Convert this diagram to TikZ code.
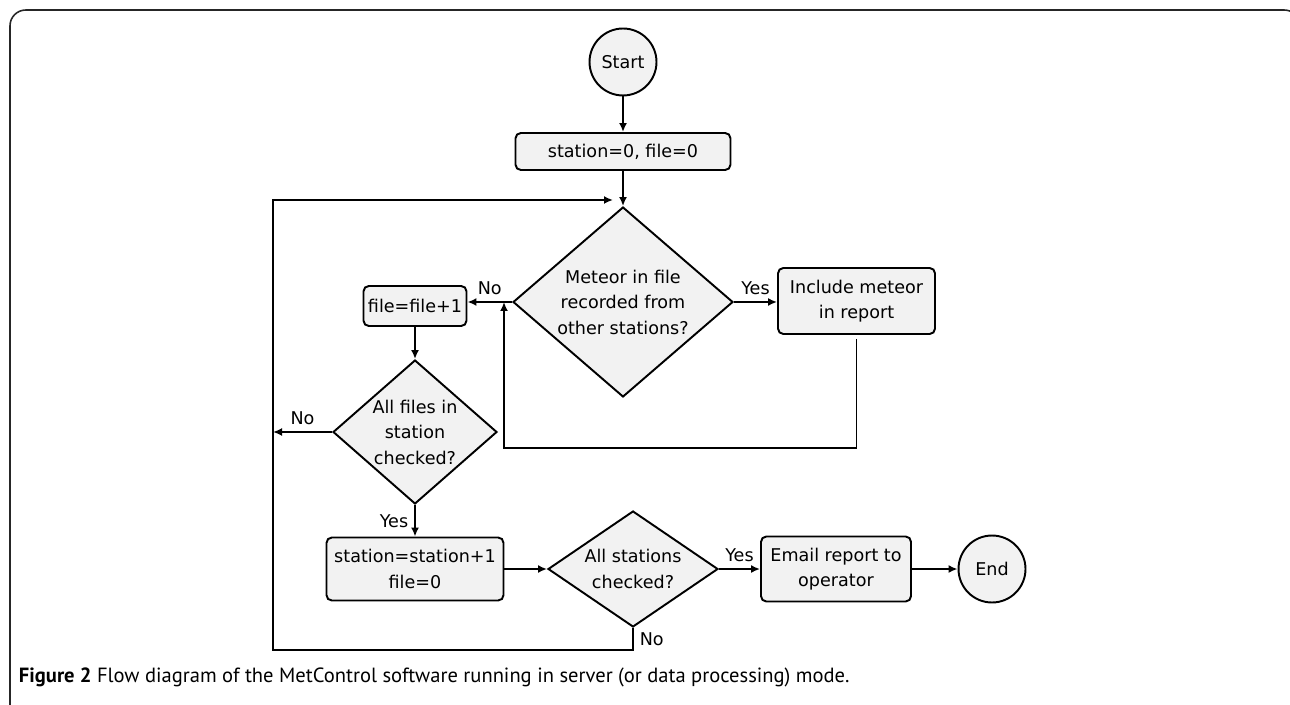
\documentclass[tikz,border=0pt]{standalone}
\usepackage{fontspec}
\usepackage{tikz}
\usetikzlibrary{arrows.meta,shapes.geometric}
\newfontfamily\flowfont{DejaVu Sans}
\newfontfamily\capfont{PT Sans}

\begin{document}
\begin{tikzpicture}[x=0.02cm, y=-0.02cm, >={Latex[length=1.8mm,width=1.6mm]}, line width=1.1pt,
    every node/.style={font=\flowfont\fontsize{10}{14.5}\selectfont},
    term/.style={circle, draw, fill=black!5, minimum size=1.34cm, inner sep=0pt},
    proc/.style={rectangle, draw, rounded corners=3pt, fill=black!5, align=center, inner sep=1pt},
    test/.style={diamond, draw, fill=black!5, align=center, inner sep=0pt}]
    \useasboundingbox (0,0) rectangle (1290,705);
    \draw[black!85, line width=0.9pt, rounded corners=9pt] (10,720) -- (10,10) -- (1300,10) -- (1300,720);

    \node[term] (start) at (623,62) {Start};
    \node[proc, minimum width=4.3cm, minimum height=0.74cm] (init) at (623,151.5) {station=0, file=0};
    \node[test, aspect=1.15, minimum width=4.4cm, minimum height=3.8cm] (meteor) at (623,302) {Meteor in file\\recorded from\\other stations?};
    \node[proc, minimum width=3.14cm, minimum height=1.32cm] (incl) at (856.5,301) {Include meteor\\in report};
    \node[proc, minimum width=2.06cm, minimum height=0.8cm] (next) at (415,306) {file=file+1};
    \node[test, aspect=1.14, minimum width=3.28cm, minimum height=2.88cm] (files) at (415,432) {All files in\\station\\checked?};
    \node[proc, minimum width=3.54cm, minimum height=1.26cm] (nextst) at (415,569) {station=station+1\\file=0};
    \node[test, aspect=1.5, minimum width=3.4cm, minimum height=2.32cm] (stations) at (633,569) {All stations\\checked?};
    \node[proc, minimum width=3cm, minimum height=1.3cm] (email) at (836,569) {Email report to\\operator};
    \node[term] (end) at (992,569) {End};

    \coordinate (loopL) at (273,200);
    \coordinate (loopB) at (273,650);
    \coordinate (join) at (613,200);
    \coordinate (back) at (504,448);

    \draw[->] (start) -- (init);
    \draw[->] (init) -- (meteor);
    \draw[->] (meteor.east) -- node[above] {Yes} (meteor.east -| incl.west);
    \draw[->] (meteor.west) -- node[above] {No} (meteor.west -| next.east);
    \draw[->] ([yshift=-0.08cm]incl.south) |- (back) -- (back |- meteor.west);
    \draw[->] (next) -- (files);
    \draw[->] (files.west) -- node[above] {No} (files.west -| loopL);
    \draw[->] (files.south) -- node[left] {Yes} (nextst.north);
    \draw[->] (nextst) -- (stations);
    \draw[->] (stations) -- node[above] {Yes} (email);
    \draw[->] (email) -- (end);
    \draw[->] (stations.south) -- node[right] {No} (stations.south |- loopB) -- (loopB) -- (loopL) -- (join);

    \node[font=\capfont\fontsize{11.7}{14}\selectfont, anchor=west, inner sep=0pt] (caption) at (18,677) {\textbf{Figure 2} Flow diagram of the MetControl software running in server (or data processing) mode.};
\end{tikzpicture}
\end{document}
